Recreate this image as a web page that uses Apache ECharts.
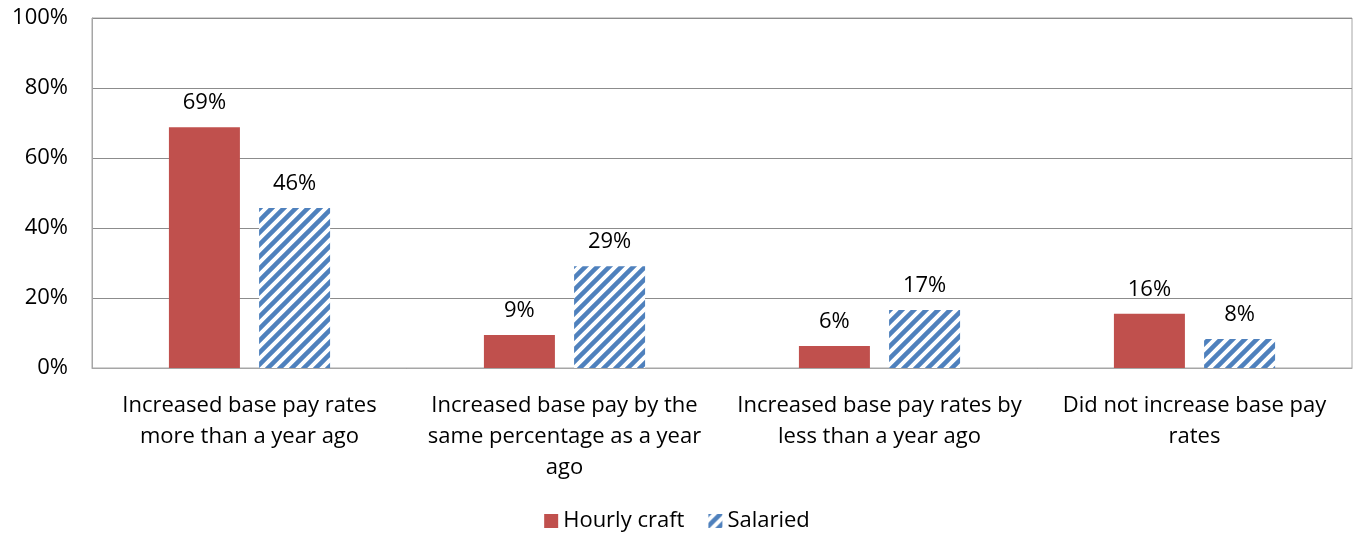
<!DOCTYPE html>
<html>
<head>
<meta charset="utf-8">
<script src="https://cdn.jsdelivr.net/npm/echarts@6/dist/echarts.min.js"></script>
<style>
  html, body { margin: 0; padding: 0; background: #fff; }
  #chart { width: 1354px; height: 537px; }
</style>
</head>
<body>
<div id="chart"></div>
<script>
// categories and values
const categories = [
  'Increased base pay rates\nmore than a year ago',
  'Increased base pay by the\nsame percentage as a year\nago',
  'Increased base pay rates by\nless than a year ago',
  'Did not increase base pay\nrates'
]
const hourlyCraft = [68.8, 9.4, 6.3, 15.5]
const salaried = [45.7, 29.1, 16.6, 8.3]
const yTicks = [0, 20, 40, 60, 80, 100]

const font = '"Open Sans", Lato, sans-serif'
const fontSize = 22
const red = '#C0504D'
const blue = '#4F81BD'

// diagonal hatch for the Salaried bars
const makeHatch = () => {
  const size = 12
  const c = document.createElement('canvas')
  c.width = size
  c.height = size
  const ctx = c.getContext('2d')
  ctx.fillStyle = '#fff'
  ctx.fillRect(0, 0, size, size)
  ctx.strokeStyle = blue
  ctx.lineWidth = 4.5
  ctx.beginPath()
  ctx.moveTo(-3, size + 3); ctx.lineTo(size + 3, -3)
  ctx.moveTo(-3, 3); ctx.lineTo(3, -3)
  ctx.moveTo(size - 3, size + 3); ctx.lineTo(size + 3, size - 3)
  ctx.stroke()
  return c
}
const hatch = { image: makeHatch(), repeat: 'repeat' }

const chart = echarts.init(document.getElementById('chart'))

const labelStyle = {
  show: true,
  position: 'top',
  distance: 13,
  fontFamily: font,
  fontSize: fontSize,
  color: '#000',
  formatter: p => Math.round(p.value) + '%'
}

chart.setOption({
  animation: false,
  textStyle: { fontFamily: font },
  grid: {
    left: 92,
    right: 2,
    top: 18,
    bottom: 169,
    show: true,
    borderColor: '#a6a6a6',
    borderWidth: 1
  },
  legend: {
    bottom: 0,
    left: 'center',
    itemWidth: 14,
    itemHeight: 14,
    itemGap: 24,
    textStyle: { fontFamily: font, fontSize: fontSize, color: '#000' },
    data: [
      { name: 'Hourly craft', icon: 'rect' },
      { name: 'Salaried', icon: 'rect' }
    ]
  },
  xAxis: {
    type: 'category',
    data: categories,
    axisLine: { lineStyle: { color: '#a6a6a6' } },
    axisTick: { show: false },
    axisLabel: {
      interval: 0,
      margin: 22,
      fontFamily: font,
      fontSize: fontSize,
      lineHeight: 31,
      color: '#000'
    }
  },
  yAxis: {
    type: 'value',
    min: yTicks[0],
    max: yTicks[yTicks.length - 1],
    interval: 20,
    axisLine: { show: true, lineStyle: { color: '#a6a6a6' } },
    axisTick: { show: false },
    axisLabel: {
      margin: 24,
      fontFamily: font,
      fontSize: fontSize,
      color: '#000',
      formatter: v => v + '%'
    },
    splitLine: { lineStyle: { color: '#8c8c8c' } }
  },
  series: [
    {
      name: 'Hourly craft',
      type: 'bar',
      data: hourlyCraft,
      barWidth: 71,
      barGap: '27%',
      itemStyle: { color: red },
      label: labelStyle
    },
    {
      name: 'Salaried',
      type: 'bar',
      data: salaried,
      barWidth: 71,
      itemStyle: { color: hatch },
      label: labelStyle
    }
  ]
})

window.addEventListener('resize', () => chart.resize())
</script>
</body>
</html>
